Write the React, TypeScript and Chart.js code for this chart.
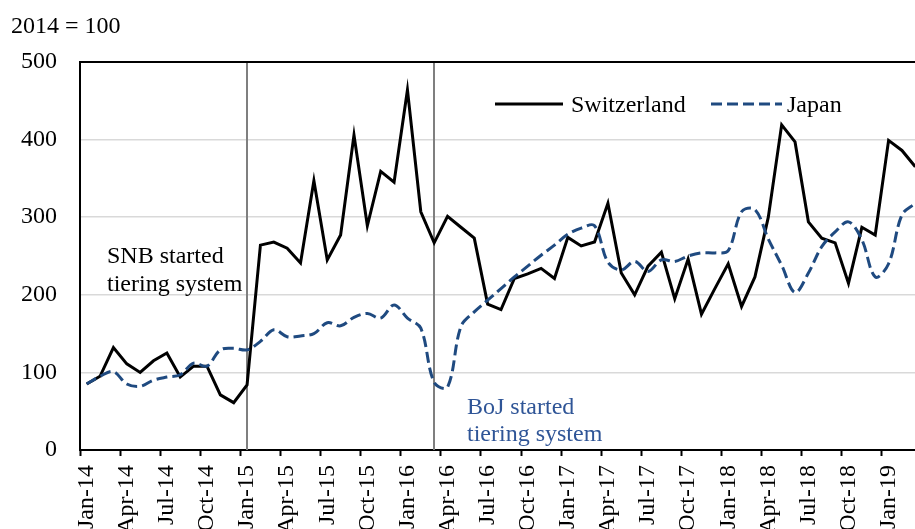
import React, { useEffect, useRef } from 'react';
import { Chart, registerables } from 'chart.js';

Chart.register(...registerables);

const categories = [
  'Jan-14','Feb-14','Mar-14','Apr-14','May-14','Jun-14','Jul-14','Aug-14','Sep-14','Oct-14','Nov-14','Dec-14',
  'Jan-15','Feb-15','Mar-15','Apr-15','May-15','Jun-15','Jul-15','Aug-15','Sep-15','Oct-15','Nov-15','Dec-15',
  'Jan-16','Feb-16','Mar-16','Apr-16','May-16','Jun-16','Jul-16','Aug-16','Sep-16','Oct-16','Nov-16','Dec-16',
  'Jan-17','Feb-17','Mar-17','Apr-17','May-17','Jun-17','Jul-17','Aug-17','Sep-17','Oct-17','Nov-17','Dec-17',
  'Jan-18','Feb-18','Mar-18','Apr-18','May-18','Jun-18','Jul-18','Aug-18','Sep-18','Oct-18','Nov-18','Dec-18',
  'Jan-19','Feb-19','Mar-19',
];

const tickLabels = [
  'Jan-14','Apr-14','Jul-14','Oct-14','Jan-15','Apr-15','Jul-15','Oct-15','Jan-16','Apr-16','Jul-16','Oct-16',
  'Jan-17','Apr-17','Jul-17','Oct-17','Jan-18','Apr-18','Jul-18','Oct-18','Jan-19',
];

const switzerland = [
  85, 95, 132, 111, 100, 115, 125, 94, 108, 108, 71, 61,
  84, 264, 268, 260, 241, 347, 245, 277, 406, 289, 359, 345,
  464, 307, 267, 301, 287, 273, 188, 181, 221, 227, 234, 221,
  274, 263, 268, 318, 228, 200, 237, 255, 195, 246, 175, 208,
  240, 185, 223, 300, 419, 397, 294, 273, 267, 215, 287, 277,
  399, 386, 365,
];

const japan = [
  85, 95, 101, 85, 82, 90, 94, 97, 112, 108, 129, 131,
  129, 140, 155, 146, 147, 150, 164, 160, 171, 176, 170, 187,
  170, 157, 87, 81, 159, 178, 193, 208, 223, 237, 251, 264,
  278, 286, 289, 242, 232, 243, 230, 245, 243, 250, 254, 254,
  257, 307, 310, 272, 238, 203, 228, 262, 281, 294, 271, 223,
  240, 303, 318,
];

const eventMonths = ['Jan-15', 'Mar-16'];
const yTicks = [0, 100, 200, 300, 400, 500];

const FONT = '"Liberation Serif", "Times New Roman", serif';
const FS = 24;
const JAPAN_COLOR = '#1F4A80';
const BOJ_TEXT = '#2F5597';

const overlay = {
  id: 'overlay',
  beforeDatasetsDraw(chart: any) {
    const { ctx, chartArea: a, scales } = chart;
    const x = scales.x;
    ctx.save();
    ctx.strokeStyle = '#7f7f7f';
    ctx.lineWidth = 2;
    eventMonths.forEach((m) => {
      const px = Math.round(x.getPixelForValue(categories.indexOf(m)));
      ctx.beginPath();
      ctx.moveTo(px, a.top);
      ctx.lineTo(px, a.bottom);
      ctx.stroke();
    });
    ctx.restore();
  },
  afterDraw(chart: any) {
    const { ctx, chartArea: a } = chart;
    ctx.save();
    ctx.strokeStyle = '#000';
    ctx.lineWidth = 2;
    ctx.beginPath();
    ctx.moveTo(a.left, a.top);
    ctx.lineTo(a.right, a.top);
    ctx.stroke();

    ctx.font = `${FS}px ${FONT}`;
    ctx.textBaseline = 'alphabetic';
    ctx.textAlign = 'left';
    ctx.fillStyle = '#000';
    ctx.fillText('2014 = 100', 11, 33);

    ctx.fillText('SNB started', 107, 263);
    ctx.fillText('tiering system', 107, 291);
    ctx.fillStyle = BOJ_TEXT;
    ctx.fillText('BoJ started', 467, 414);
    ctx.fillText('tiering system', 467, 441);

    ctx.lineWidth = 3;
    ctx.strokeStyle = '#000';
    ctx.setLineDash([]);
    ctx.beginPath();
    ctx.moveTo(495, 104);
    ctx.lineTo(563, 104);
    ctx.stroke();
    ctx.fillStyle = '#000';
    ctx.fillText('Switzerland', 571, 112);

    ctx.strokeStyle = JAPAN_COLOR;
    ctx.setLineDash([11, 5]);
    ctx.beginPath();
    ctx.moveTo(711, 104);
    ctx.lineTo(782, 104);
    ctx.stroke();
    ctx.setLineDash([]);
    ctx.fillStyle = '#000';
    ctx.fillText('Japan', 787, 112);
    ctx.restore();
  },
};

export default function App() {
  const ref = useRef<HTMLCanvasElement | null>(null);

  useEffect(() => {
    if (!ref.current) return;
    const chart = new Chart(ref.current, {
      type: 'line',
      data: {
        labels: categories,
        datasets: [
          {
            label: 'Switzerland',
            data: switzerland,
            borderColor: '#000',
            borderWidth: 3,
            pointRadius: 0,
            tension: 0,
            fill: false,
            order: 2,
          },
          {
            label: 'Japan',
            data: japan,
            borderColor: JAPAN_COLOR,
            borderWidth: 3,
            borderDash: [11, 5],
            pointRadius: 0,
            tension: 0.35,
            fill: false,
            order: 1,
          },
        ],
      },
      options: {
        responsive: false,
        animation: false,
        layout: { padding: { top: 62, right: 3, left: 0, bottom: 0 } },
        plugins: {
          legend: { display: false },
          tooltip: { enabled: false },
          title: { display: false },
        },
        scales: {
          x: {
            type: 'category',
            offset: true,
            afterFit: (s: any) => {
              s.height = 79;
              s.paddingLeft = 0;
              s.paddingRight = 0;
            },
            grid: {
              offset: true,
              drawOnChartArea: false,
              tickLength: 6,
              tickWidth: 2,
              tickColor: (c: any) => (typeof c.index === 'number' && c.index % 3 === 0 ? '#000' : 'rgba(0,0,0,0)'),
            },
            border: { color: '#000', width: 2 },
            ticks: {
              autoSkip: false,
              minRotation: 90,
              maxRotation: 90,
              padding: 9,
              color: '#000',
              font: { family: FONT, size: FS },
              callback: (_v: any, i: number) => (tickLabels.includes(categories[i]) ? categories[i] : ''),
            },
          },
          y: {
            min: 0,
            max: 500,
            afterFit: (s: any) => {
              s.width = 80;
              s.paddingTop = 0;
              s.paddingBottom = 0;
            },
            afterBuildTicks: (s: any) => { s.ticks = yTicks.map((v) => ({ value: v })); },
            grid: { color: '#d9d9d9', lineWidth: 1.5, drawTicks: false },
            border: { color: '#000', width: 2 },
            ticks: {
              padding: 23,
              color: '#000',
              font: { family: FONT, size: FS },
            },
          },
        },
      },
      plugins: [overlay],
    });
    return () => chart.destroy();
  }, []);

  return (
    <div style={{ position: 'fixed', left: 0, top: 0, width: 915, height: 529, overflow: 'hidden', background: '#fff' }}>
      <canvas ref={ref} width={925} height={529} style={{ display: 'block', width: 925, height: 529 }} />
    </div>
  );
}
